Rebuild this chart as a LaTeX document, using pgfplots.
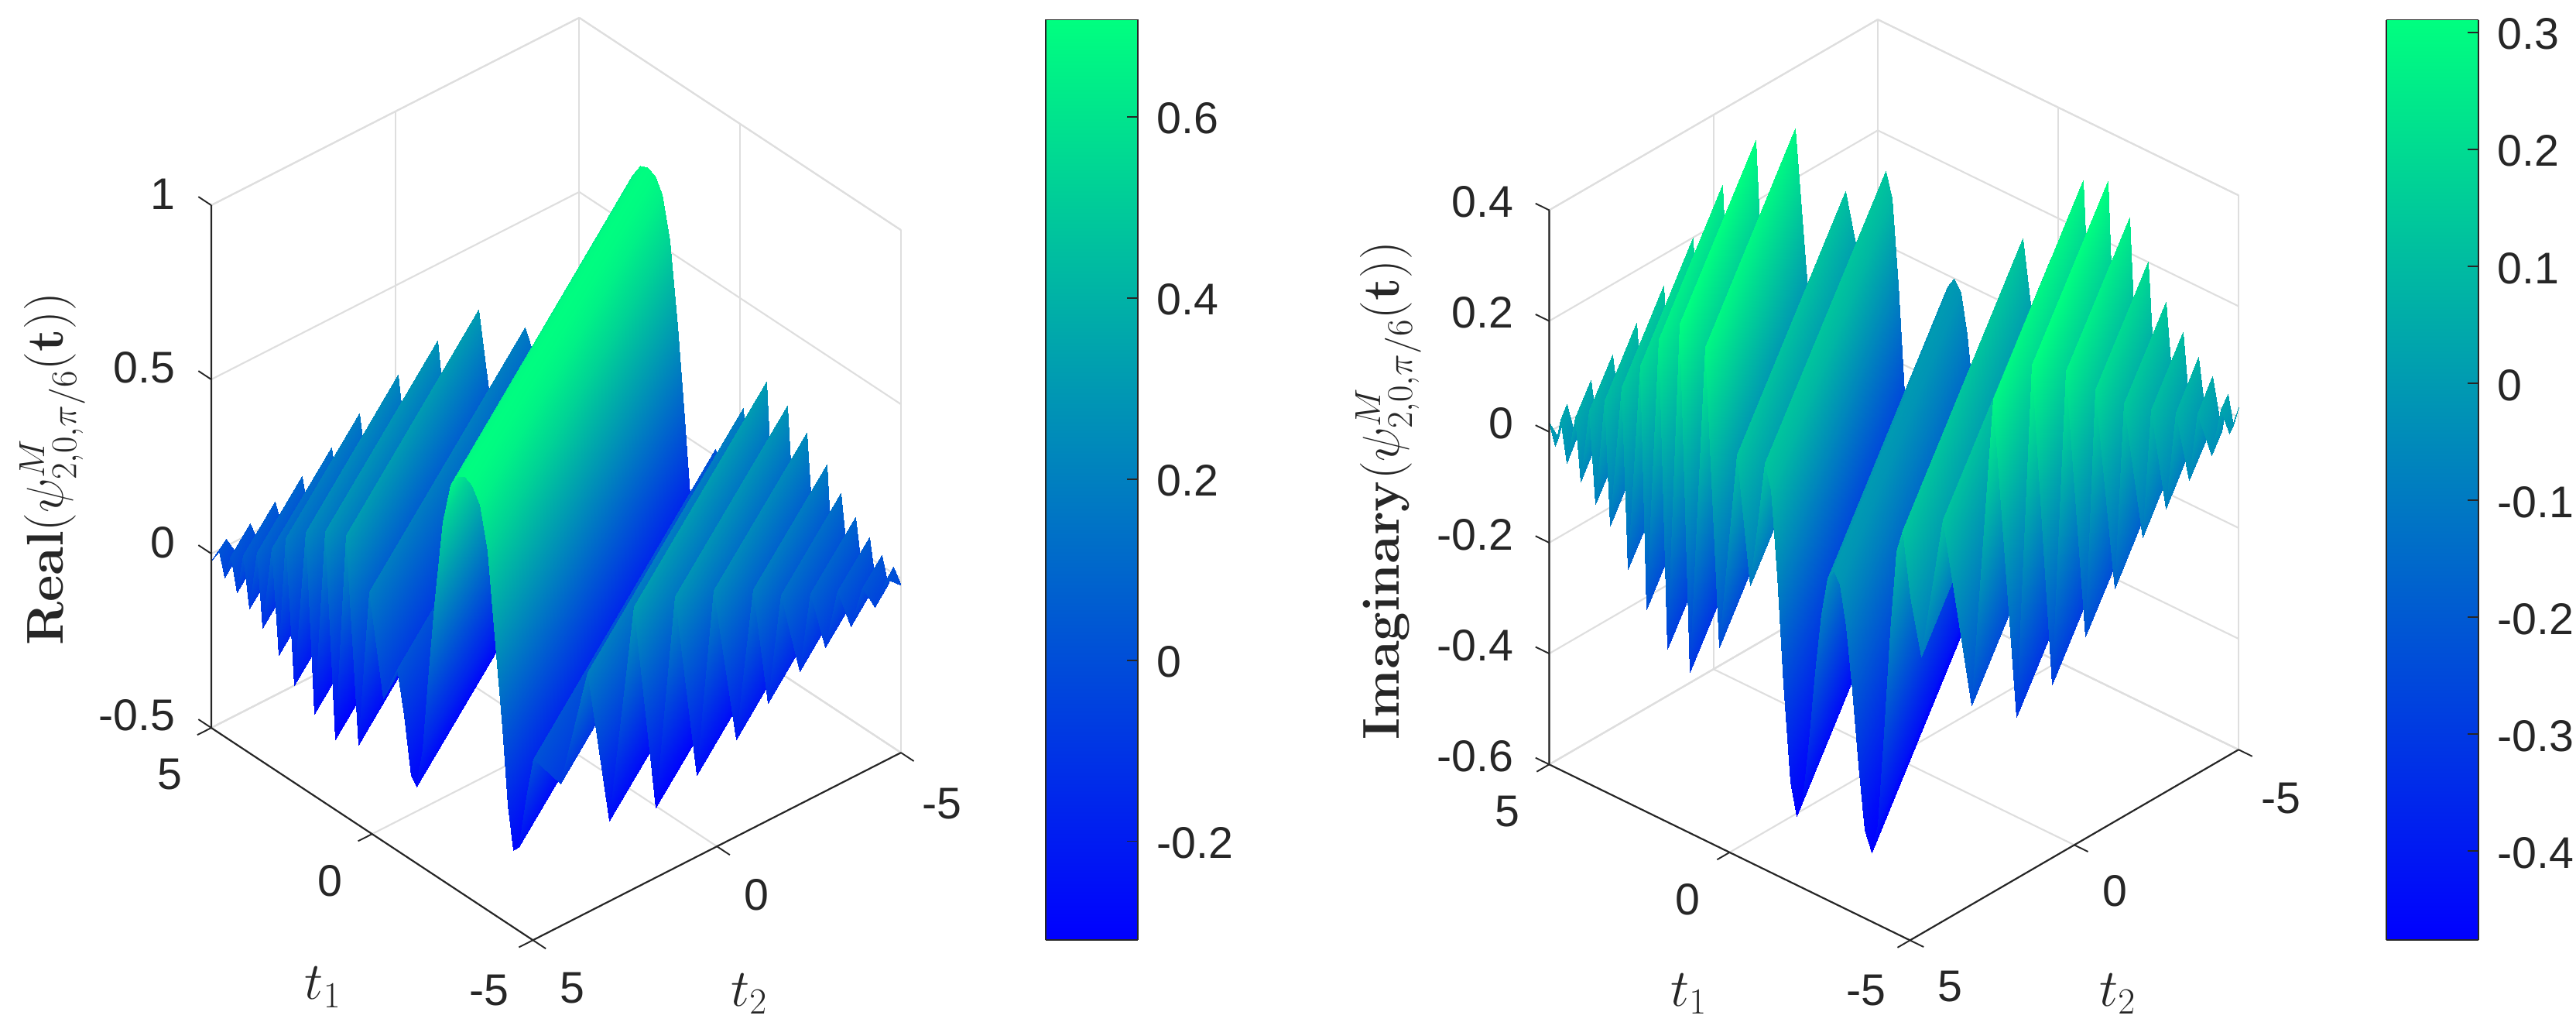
\documentclass[border=0pt]{standalone}
\usepackage{fix-cm}
\usepackage[no-math]{fontspec}
\setmainfont{Liberation Sans}
\usepackage{pgfplots}
\pgfplotsset{compat=1.18}
\definecolor{txt}{rgb}{0.15,0.15,0.15}
\definecolor{gridc}{rgb}{0.87,0.87,0.87}
\newcommand{\tf}{\fontsize{27}{30}\selectfont}
\newcommand{\lf}{\fontsize{31.5}{36}\selectfont}
\newcommand{\tlab}{\fontsize{32}{36}\selectfont}
\pgfplotsset{
  colormap={winterm}{rgb=(0,0,1) rgb=(0,1,0.5)},
  threed/.style={
    clip=false, disabledatascaling,
    colormap name=winterm,
    xmin=-5,xmax=5,ymin=-5,ymax=5,
    xtick={-5,0,5},ytick={-5,0,5},
    xticklabels={-5,0,5},yticklabels={-5,0,5},
    grid=major, grid style={gridc,line width=1pt},
    axis line style={gridc,line width=1pt},
    tick style={draw=none},
    major tick length=8.5pt,
    tick align=outside,
    tick label style={font=\tf,text=txt},
    z tick label style={xshift=-11pt,yshift=10pt},
  },
  cbar/.style={
    scale only axis,width=56pt,height=560pt,anchor=south west,
    view={0}{90},colormap name=winterm,
    xmin=0,xmax=1,xtick=\empty,
    ytick pos=right,axis on top,
    tick align=inside,major tick length=6.6pt,
    tick style={txt,line width=0.9pt},
    axis line style={txt,line width=0.9pt},
    tick label style={font=\tf,text=txt},
    yticklabel pos=right,
    y tick label style={xshift=8pt,yshift=-1pt},
  },
}
\begin{document}
\begin{tikzpicture}
\useasboundingbox (0,0) rectangle (1568pt,626pt);
% ---------- left surface
\begin{axis}[threed,
  at={(338.5pt,281.55pt)},anchor=origin,
  x={(-19.58pt,12.92pt)},y={(-22.4pt,-11.41pt)},z={(0pt,212pt)},
  x tick label style={xshift=-9pt,yshift=-10pt},
  y tick label style={xshift=9pt,yshift=-10pt},
  zmin=-0.5,zmax=1,ztick={-0.5,0,0.5,1},zticklabels={-0.5,0,0.5,1},
  point meta min=-0.309,point meta max=0.707]
\addplot3[surf,shader=interp,z buffer=none,mesh/cols=2,point meta=z] table {
5 5 -0.02
5 5 -0.02
4.769 5 0.02
5 4.60 0.02
4.584 5 -0.043
5 4.28 -0.043
4.388 5 0.03
5 3.94 0.03
4.215 5 -0.064
5 3.64 -0.064
4.007 5 0.057
5 3.28 0.057
3.811 5 -0.086
5 2.94 -0.086
3.580 5 0.09
5 2.54 0.09
3.406 5 -0.117
5 2.24 -0.117
3.118 5 0.13
5 1.74 0.13
2.910 5 -0.163
5 1.38 -0.163
2.679 5 0.185
5 0.98 0.185
2.413 5 -0.22
5 0.52 -0.22
2.067 5 0.24
5 -0.08 0.24
1.790 5 -0.265
5 -0.56 -0.265
1.455 5 0.28
5 -1.14 0.28
1.155 5 -0.30
5 -1.66 -0.30
0.808 5 0.31
5 -2.26 0.31
0.427 5 -0.27
5 -2.92 -0.27
0.081 5 0.19
5 -3.52 0.19
-0.346 5 -0.09
5 -4.26 -0.09
-0.774 5 0.02
5 -5 0.02
-0.981 5 -0.10
4.792 -5 -0.10
-1.212 5 -0.26
4.561 -5 -0.26
-1.386 5 -0.28
4.388 -5 -0.28
-1.559 5 -0.16
4.215 -5 -0.16
-1.732 5 0.05
4.041 -5 0.05
-1.963 5 0.30
3.811 -5 0.30
-2.194 5 0.53
3.580 -5 0.53
-2.425 5 0.65
3.349 -5 0.65
-2.656 5 0.69
3.118 -5 0.69
-2.887 5 0.70
2.887 -5 0.70
-3.118 5 0.69
2.656 -5 0.69
-3.349 5 0.65
2.425 -5 0.65
-3.580 5 0.53
2.194 -5 0.53
-3.811 5 0.30
1.963 -5 0.30
-4.041 5 0.05
1.732 -5 0.05
-4.215 5 -0.16
1.559 -5 -0.16
-4.388 5 -0.28
1.386 -5 -0.28
-4.561 5 -0.26
1.212 -5 -0.26
-4.792 5 -0.10
0.981 -5 -0.10
-5 5 0.02
0.774 -5 0.02
-5 4.26 -0.09
0.346 -5 -0.09
-5 3.52 0.19
-0.081 -5 0.19
-5 2.92 -0.27
-0.427 -5 -0.27
-5 2.26 0.31
-0.808 -5 0.31
-5 1.66 -0.30
-1.155 -5 -0.30
-5 1.14 0.28
-1.455 -5 0.28
-5 0.56 -0.265
-1.790 -5 -0.265
-5 0.08 0.24
-2.067 -5 0.24
-5 -0.52 -0.22
-2.413 -5 -0.22
-5 -0.98 0.185
-2.679 -5 0.185
-5 -1.38 -0.163
-2.910 -5 -0.163
-5 -1.74 0.13
-3.118 -5 0.13
-5 -2.24 -0.117
-3.406 -5 -0.117
-5 -2.54 0.09
-3.580 -5 0.09
-5 -2.94 -0.086
-3.811 -5 -0.086
-5 -3.28 0.057
-4.007 -5 0.057
-5 -3.64 -0.064
-4.215 -5 -0.064
-5 -3.94 0.03
-4.388 -5 0.03
-5 -4.28 -0.043
-4.584 -5 -0.043
-5 -4.60 0.02
-4.769 -5 0.02
-5 -5 -0.02
-5 -5 -0.02
};
\draw[txt,line width=1pt] (axis cs:5,5,1)--(axis cs:5,5,-0.5)--(axis cs:-5,5,-0.5)--(axis cs:-5,-5,-0.5);
\draw[txt,line width=0.9pt]
  (axis cs:5,5,-0.5)--(axis cs:5,5.38,-0.5) (axis cs:0,5,-0.5)--(axis cs:0,5.38,-0.5) (axis cs:-5,5,-0.5)--(axis cs:-5,5.38,-0.5)
  (axis cs:-5,5,-0.5)--(axis cs:-5.4,5,-0.5) (axis cs:-5,0,-0.5)--(axis cs:-5.4,0,-0.5) (axis cs:-5,-5,-0.5)--(axis cs:-5.4,-5,-0.5)
  (axis cs:5,5,-0.5)--(axis cs:5.4,5,-0.5) (axis cs:5,5,0)--(axis cs:5.4,5,0) (axis cs:5,5,0.5)--(axis cs:5.4,5,0.5) (axis cs:5,5,1)--(axis cs:5.4,5,1);
\end{axis}
% ---------- left colour bar
\begin{axis}[cbar,at={(636.5pt,54pt)},
  ymin=-0.309,ymax=0.707,ytick={-0.2,0,0.2,0.4,0.6},yticklabels={-0.2,0,0.2,0.4,0.6},
  point meta min=-0.309,point meta max=0.707]
\addplot3[surf,shader=interp,mesh/cols=2,point meta=y] coordinates {
(0,-0.309,0)(1,-0.309,0)

(0,0.707,0)(1,0.707,0)};
\end{axis}
% ---------- right surface
\begin{axis}[threed,
  at={(1152.8pt,367.7pt)},anchor=origin,
  x={(-21.96pt,10.7pt)},y={(-20pt,-11.6pt)},z={(0pt,337.3pt)},
  x tick label style={xshift=-10pt,yshift=-10pt},
  y tick label style={xshift=8pt,yshift=-10pt},
  zmin=-0.6,zmax=0.4,ztick={-0.6,-0.4,-0.2,0,0.2,0.4},zticklabels={-0.6,-0.4,-0.2,0,0.2,0.4},
  point meta min=-0.476,point meta max=0.311]
\addplot3[surf,shader=interp,z buffer=none,mesh/cols=2,point meta=z] table {
5 5 0.018
5 5 0.018
4.838 5 -0.02
5 4.72 -0.02
4.688 5 0.032
5 4.46 0.032
4.527 5 -0.041
5 4.18 -0.041
4.272 5 0.05
5 3.74 0.05
4.134 5 -0.062
5 3.5 -0.062
3.891 5 0.074
5 3.08 0.074
3.718 5 -0.089
5 2.78 -0.089
3.464 5 0.105
5 2.34 0.105
3.314 5 -0.116
5 2.08 -0.116
2.991 5 0.144
5 1.52 0.144
2.818 5 -0.179
5 1.22 -0.179
2.483 5 0.2
5 0.64 0.2
2.309 5 -0.235
5 0.34 -0.235
1.963 5 0.264
5 -0.26 0.264
1.721 5 -0.287
5 -0.68 -0.287
1.374 5 0.31
5 -1.28 0.31
1.097 5 -0.309
5 -1.76 -0.309
0.681 5 0.29
5 -2.48 0.29
0.300 5 -0.24
5 -3.14 -0.24
-0.196 5 0.124
5 -4.0 0.124
-0.577 5 -0.1
5 -4.66 -0.1
-0.774 5 0.02
5 -5 0.02
-0.981 5 0.133
4.792 -5 0.133
-1.155 5 0.09
4.619 -5 0.09
-1.328 5 -0.06
4.446 -5 -0.06
-1.501 5 -0.25
4.272 -5 -0.25
-1.674 5 -0.42
4.099 -5 -0.42
-1.848 5 -0.476
3.926 -5 -0.476
-2.021 5 -0.44
3.753 -5 -0.44
-2.194 5 -0.33
3.580 -5 -0.33
-2.367 5 -0.2
3.406 -5 -0.2
-2.540 5 -0.09
3.233 -5 -0.09
-2.714 5 -0.02
3.060 -5 -0.02
-2.887 5 0
2.887 -5 0
-3.060 5 -0.02
2.714 -5 -0.02
-3.233 5 -0.09
2.540 -5 -0.09
-3.406 5 -0.2
2.367 -5 -0.2
-3.580 5 -0.33
2.194 -5 -0.33
-3.753 5 -0.44
2.021 -5 -0.44
-3.926 5 -0.476
1.848 -5 -0.476
-4.099 5 -0.42
1.674 -5 -0.42
-4.272 5 -0.25
1.501 -5 -0.25
-4.446 5 -0.06
1.328 -5 -0.06
-4.619 5 0.09
1.155 -5 0.09
-4.792 5 0.133
0.981 -5 0.133
-5 5 0.02
0.774 -5 0.02
-5 4.66 -0.1
0.577 -5 -0.1
-5 4.0 0.124
0.196 -5 0.124
-5 3.14 -0.24
-0.300 -5 -0.24
-5 2.48 0.29
-0.681 -5 0.29
-5 1.76 -0.309
-1.097 -5 -0.309
-5 1.28 0.31
-1.374 -5 0.31
-5 0.68 -0.287
-1.721 -5 -0.287
-5 0.26 0.264
-1.963 -5 0.264
-5 -0.34 -0.235
-2.309 -5 -0.235
-5 -0.64 0.2
-2.483 -5 0.2
-5 -1.22 -0.179
-2.818 -5 -0.179
-5 -1.52 0.144
-2.991 -5 0.144
-5 -2.08 -0.116
-3.314 -5 -0.116
-5 -2.34 0.105
-3.464 -5 0.105
-5 -2.78 -0.089
-3.718 -5 -0.089
-5 -3.08 0.074
-3.891 -5 0.074
-5 -3.5 -0.062
-4.134 -5 -0.062
-5 -3.74 0.05
-4.272 -5 0.05
-5 -4.18 -0.041
-4.527 -5 -0.041
-5 -4.46 0.032
-4.688 -5 0.032
-5 -4.72 -0.02
-4.838 -5 -0.02
-5 -5 0.018
-5 -5 0.018
};
\draw[txt,line width=1pt] (axis cs:5,5,0.4)--(axis cs:5,5,-0.6)--(axis cs:-5,5,-0.6)--(axis cs:-5,-5,-0.6);
\draw[txt,line width=0.9pt]
  (axis cs:5,5,-0.6)--(axis cs:5,5.38,-0.6) (axis cs:0,5,-0.6)--(axis cs:0,5.38,-0.6) (axis cs:-5,5,-0.6)--(axis cs:-5,5.38,-0.6)
  (axis cs:-5,5,-0.6)--(axis cs:-5.38,5,-0.6) (axis cs:-5,0,-0.6)--(axis cs:-5.38,0,-0.6) (axis cs:-5,-5,-0.6)--(axis cs:-5.38,-5,-0.6)
  (axis cs:5,5,-0.6)--(axis cs:5.38,5,-0.6) (axis cs:5,5,-0.4)--(axis cs:5.38,5,-0.4) (axis cs:5,5,-0.2)--(axis cs:5.38,5,-0.2)
  (axis cs:5,5,0)--(axis cs:5.38,5,0) (axis cs:5,5,0.2)--(axis cs:5.38,5,0.2) (axis cs:5,5,0.4)--(axis cs:5.38,5,0.4);
\end{axis}
% ---------- right colour bar
\begin{axis}[cbar,at={(1452.7pt,54pt)},
  ymin=-0.476,ymax=0.311,ytick={-0.4,-0.3,-0.2,-0.1,0,0.1,0.2,0.3},yticklabels={-0.4,-0.3,-0.2,-0.1,0,0.1,0.2,0.3},
  point meta min=-0.476,point meta max=0.311]
\addplot3[surf,shader=interp,mesh/cols=2,point meta=y] coordinates {
(0,-0.476,0)(1,-0.476,0)

(0,0.311,0)(1,0.311,0)};
\end{axis}
% ---------- labels
\node[font=\tlab,text=txt] at (196.6pt,25.2pt) {$t_1$};
\node[font=\tlab,text=txt] at (456pt,21.3pt) {$t_2$};
\node[font=\tlab,text=txt] at (1028pt,21.3pt) {$t_1$};
\node[font=\tlab,text=txt] at (1289pt,21.3pt) {$t_2$};
\node[font=\lf,text=txt,rotate=90] at (32pt,340.5pt) {$\mathbf{Real}(\psi^{M}_{2,0,\pi/6}(\mathbf{t}))$};
\node[font=\lf,text=txt,rotate=90] at (845pt,327.4pt) {$\mathbf{Imaginary}(\psi^{M}_{2,0,\pi/6}(\mathbf{t}))$};
\end{tikzpicture}
\end{document}
